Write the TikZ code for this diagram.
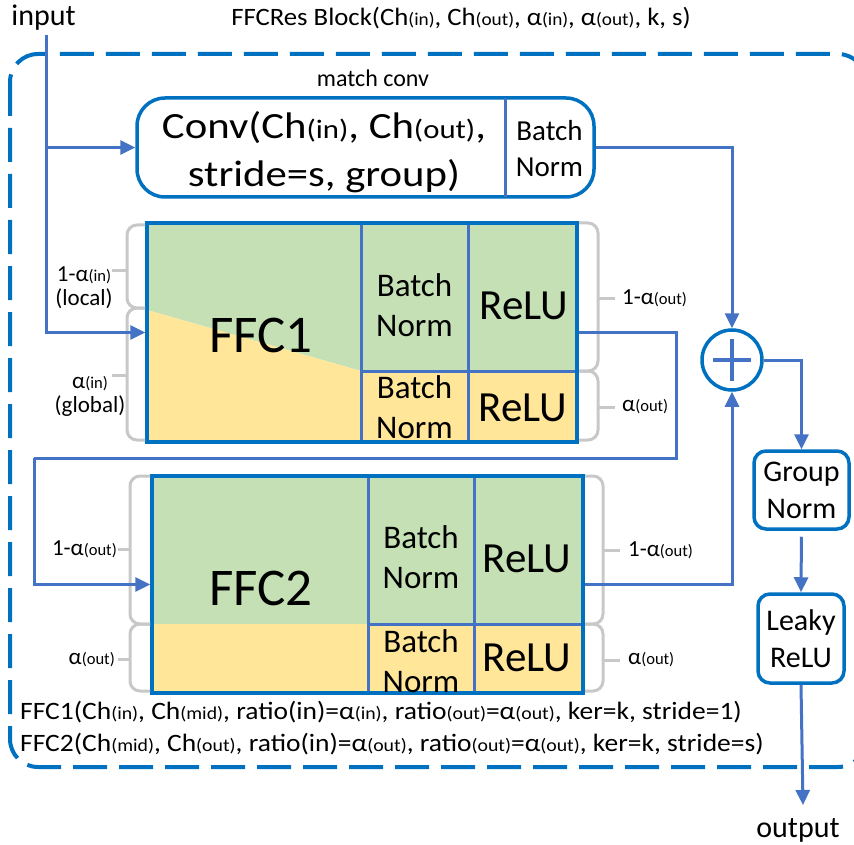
\documentclass[tikz,border=0pt]{standalone}
\usepackage{fontspec}
\setmainfont{Carlito}
\usepackage{graphicx}
\usetikzlibrary{arrows.meta,calc}
\definecolor{boxblue}{HTML}{0070C0}
\definecolor{linkblue}{HTML}{4472C4}
\definecolor{lgreen}{HTML}{C5E0B4}
\definecolor{lyellow}{HTML}{FFE699}
\definecolor{bracegray}{HTML}{C8C8C8}
% small parenthesised index set on the baseline
\newcommand\subtx[1]{\scalebox{0.72}{#1}}
\newcommand\fs[2]{\fontsize{#1}{#2}\selectfont}
% horizontally widened text line
\newcommand\wide[2]{\scalebox{#1}[1]{#2}}
\tikzset{
  conn/.style={draw=linkblue, line width=3pt},
  arr/.style={conn, -{Triangle[length=15pt,width=14pt]}},
  outline/.style={draw=boxblue, line width=3.5pt},
  divider/.style={draw=linkblue, line width=3pt},
  brace/.style={draw=bracegray, line width=3pt},
  txt/.style={inner sep=0pt, align=center},
  sidelbl/.style={txt, font=\fs{23}{24}},
  bnlbl/.style={txt, font=\fs{33}{40}},
  relulbl/.style={txt, font=\fs{43}{48}},
  ffclbl/.style={txt, font=\fs{53}{60}},
  dashbox/.style={draw=boxblue, line width=4pt, dash pattern=on 34pt off 12pt, rounded corners=28pt},
}
\begin{document}
\begin{tikzpicture}[x=1pt,y=-1pt]
\useasboundingbox (0,0) rectangle (854,845);

% outer dashed frame of the residual block
\begin{scope}
  \clip (0,0) rectangle (854,845);
  \draw[dashbox] (10,54) rectangle (866,767);
\end{scope}

% headings
\node[txt, font=\fs{30}{36}] (in) at (43.5,18) {input};
\node[txt, font=\fs{25}{30}] (title) at (461,18)
  {\wide{1.07}{FFCRes Block(Ch\subtx{(in)}, Ch\subtx{(out)}, α\subtx{(in)}, α\subtx{(out)}, k, s)}};
\node[txt, font=\fs{24}{28}] (mc) at (373,78) {match conv};

% match conv box
\node[outline, rounded corners=28pt, minimum width=457pt, minimum height=99pt, inner sep=0pt] (conv) at (365.5,147.5) {};
\draw[divider] (505,98) -- (505,197);
\node[txt, font=\fs{37}{48}] (convtxt) at (324,152)
  {\wide{1.155}{Conv(Ch\subtx{(in)}, Ch\subtx{(out)},}\\\wide{1.155}{stride=s, group)}};
\node[txt, font=\fs{29}{36}] (convbn) at (549.5,149) {Batch\\Norm};

% FFC1 block
\fill[lgreen] (147,223) -- (577,223) -- (577,371) -- (361,371) -- (147,310) -- cycle;
\fill[lyellow] (147,310) -- (361,371) -- (577,371) -- (577,442) -- (147,442) -- cycle;
\draw[divider] (361,223) -- (361,442);
\draw[divider] (468,223) -- (468,442);
\draw[divider] (361,371) -- (577,371);
\node[outline, minimum width=430pt, minimum height=219pt, inner sep=0pt] (ffc1) at (362,332.5) {};
\node[ffclbl] (f1t) at (261,335.5) {FFC1};
\node[bnlbl] (f1bn) at (414.5,305) {Batch\\Norm};
\node[relulbl] (f1re) at (524,305.5) {ReLU};
\node[bnlbl] (f1bny) at (414.5,407) {Batch\\Norm};
\node[relulbl] (f1rey) at (523,407.5) {ReLU};

% FFC2 block
\fill[lgreen] (152,476) rectangle (583,624);
\fill[lyellow] (152,624) rectangle (583,693);
\draw[divider] (368,476) -- (368,693);
\draw[divider] (474,476) -- (474,693);
\draw[divider] (368,624) -- (583,624);
\node[outline, minimum width=431pt, minimum height=217pt, inner sep=0pt] (ffc2) at (367.5,584.5) {};
\node[ffclbl] (f2t) at (261,588.5) {FFC2};
\node[bnlbl] (f2bn) at (421,557.5) {Batch\\Norm};
\node[relulbl] (f2re) at (527,558.5) {ReLU};
\node[bnlbl] (f2bny) at (421,661) {Batch\\Norm};
\node[relulbl] (f2rey) at (527,657.5) {ReLU};

% channel split braces, FFC1
\draw[brace, rounded corners=10pt] (145,225) -- (127,225) -- (127,308) -- (145,308);
\draw[brace] (127,270) -- (112,270);
\draw[brace, rounded corners=10pt] (145,308) -- (127,308) -- (127,440) -- (145,440);
\draw[brace] (127,375) -- (112,375);
\draw[brace, rounded corners=10pt] (579,223) -- (598,223) -- (598,371) -- (579,371);
\draw[brace] (598,298) -- (615,298);
\draw[brace, rounded corners=10pt] (579,371) -- (598,371) -- (598,440) -- (579,440);
\draw[brace] (598,407) -- (615,407);
\node[sidelbl] (l1a) at (84,288) {1-α\subtx{(in)}\\(local)};
\node[sidelbl] (l1b) at (90,396) {α\subtx{(in)}\\(global)};
\node[sidelbl, anchor=west] (r1a) at (622,298) {1-α\subtx{(out)}};
\node[sidelbl, anchor=west] (r1b) at (622,407) {α\subtx{(out)}};

% channel split braces, FFC2
\draw[brace, rounded corners=10pt] (150,476) -- (130,476) -- (130,624) -- (150,624);
\draw[brace] (130,549) -- (118,549);
\draw[brace, rounded corners=10pt] (150,624) -- (130,624) -- (130,691) -- (150,691);
\draw[brace] (130,659) -- (118,659);
\draw[brace, rounded corners=10pt] (585,476) -- (603,476) -- (603,624) -- (585,624);
\draw[brace] (603,550) -- (620,550);
\draw[brace, rounded corners=10pt] (585,624) -- (603,624) -- (603,691) -- (585,691);
\draw[brace] (603,660) -- (620,660);
\node[sidelbl, anchor=east] (l2a) at (117,549) {1-α\subtx{(out)}};
\node[sidelbl, anchor=east] (l2b) at (115,660) {α\subtx{(out)}};
\node[sidelbl, anchor=west] (r2a) at (628,550) {1-α\subtx{(out)}};
\node[sidelbl, anchor=west] (r2b) at (628,660) {α\subtx{(out)}};

% sum, normalisation and activation
\node[outline, circle, minimum size=60pt, inner sep=0pt] (plus) at (732,360) {};
\draw[divider, line width=3.5pt] ($(plus)+(-19,0)$) -- ($(plus)+(19,0)$);
\draw[divider, line width=3.5pt] ($(plus)+(0,-21)$) -- ($(plus)+(0,21)$);
\node[outline, rounded corners=12pt, minimum width=95pt, minimum height=78pt, inner sep=0pt, font=\fs{30}{37}, align=center] (gn) at (801.5,490) {Group\\Norm};
\node[outline, rounded corners=12pt, minimum width=86pt, minimum height=89pt, inner sep=0pt, font=\fs{30}{37}, align=center] (lr) at (801,638.5) {Leaky\\ReLU};
\node[txt, font=\fs{30}{36}, anchor=base] (out) at (798,837) {output};

% parameter lines
\node[txt, font=\fs{25}{30}, anchor=west] (p1) at (20,712)
  {\wide{1.1}{FFC1(Ch\subtx{(in)}, Ch\subtx{(mid)}, ratio(in)=α\subtx{(in)}, ratio\subtx{(out)}=α\subtx{(out)}, ker=k, stride=1)}};
\node[txt, font=\fs{25}{30}, anchor=west] (p2) at (20,744)
  {\wide{1.1}{FFC2(Ch\subtx{(mid)}, Ch\subtx{(out)}, ratio(in)=α\subtx{(out)}, ratio\subtx{(out)}=α\subtx{(out)}, ker=k, stride=s)}};

% connectors
\coordinate (inx) at (46,0);
\coordinate (t1) at (676,458);
\coordinate (t2) at (34,458);
\coordinate (oend) at (803,805);
\draw[arr, shorten <=4pt] (in.south -| inx) |- (ffc1.west);
\draw[arr] (conv.west -| inx) -- (conv.west);
\draw[arr] (conv.east) -| (plus.north);
\draw[conn] (ffc1.east) -| (t1) -- (t2);
\draw[arr] (t2) |- (ffc2.west);
\draw[arr] (ffc2.east) -| (plus.south);
\draw[arr] (plus.east) -| (gn.north);
\draw[arr, shorten <=6pt] (gn.south) -- (lr.north);
\draw[arr] (lr.south) -- (oend);
\end{tikzpicture}
\end{document}
